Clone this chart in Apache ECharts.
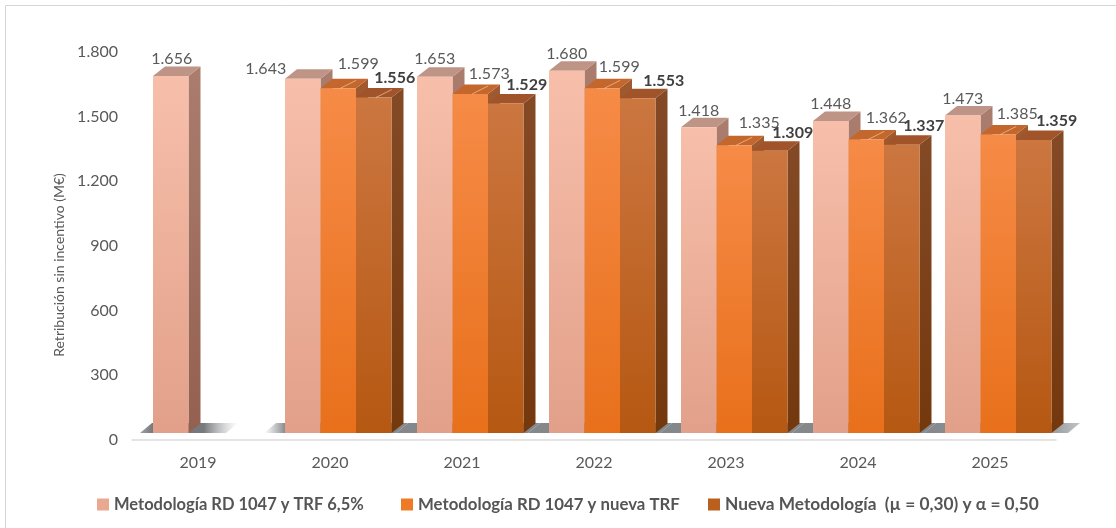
<!DOCTYPE html>
<html><head><meta charset="utf-8">
<style>html,body{margin:0;padding:0;background:#fff}#c{width:1116px;height:528px}</style>
<script src="https://cdn.jsdelivr.net/npm/echarts@6/dist/echarts.min.js"></script>
</head><body><div id="c"></div>
<script>
const categories = ['2019','2020','2021','2022','2023','2024','2025'];
const seriesNames = ['Metodología RD 1047 y TRF 6,5%','Metodología RD 1047 y nueva TRF','Nueva Metodología  (µ = 0,30) y α = 0,50'];
const rd1047Trf65 = [1656,1643,1653,1680,1418,1448,1473];
const rd1047NuevaTrf = [null,1599,1573,1599,1335,1362,1385];
const nuevaMetodologia = [null,1556,1529,1553,1309,1337,1359];

// label nudges (px, relative to the front-face top centre)
const labelDx = [[1,-37,0,0,0,0,0],[0,20,19,17,25,20,19],[0,21,21,26,23,22,23]];
const labelDy = [[-17,-10,-18,-17,-16,-17,-17],[0,-24,-20,-21,-22,-22,-21],[0,-20,-19,-17,-18,-19,-19]];

const fmt = v => String(v).replace(/\B(?=(\d{3})+$)/g,'.');
const grad = (a,b) => new echarts.graphic.LinearGradient(0,0,0,1,[{offset:0,color:a},{offset:1,color:b}]);
const palettes = [
  {front:['#f7bfaa','#e2a08a'],side:['#ab7d6e','#94604f'],top:'#bd9485'},
  {front:['#f68b47','#e8701b'],side:['#a05a30','#8a4a18'],top:'#c4672c'},
  {front:['#cc7640','#b55812'],side:['#844a26','#73380c'],top:'#a1542a'}
];
const legendColors = ['#e9a88f','#ee7a26','#b9601f'];
const BAR_W = 35.5, DX = 12, DY = 9.5, FRONT_UP = 7;

function barRenderer(si){
  return function(params, api){
    const v = api.value(1);
    if (v == null || isNaN(v)) return null;
    const idx = api.value(0);
    const base = api.coord([idx,0]);
    const top = api.coord([idx,v]);
    const x0 = base[0] - 45 + si*BAR_W, x1 = x0 + BAR_W;
    const yb = base[1] - FRONT_UP, yt = top[1] - FRONT_UP;
    const p = palettes[si];
    const children = [
      {type:'polygon',shape:{points:[[x1,yt],[x1+DX,yt-DY],[x1+DX,yb-DY],[x1,yb]]},style:{fill:grad(p.side[0],p.side[1])}},
      {type:'polygon',shape:{points:[[x0,yt],[x0+DX,yt-DY],[x1+DX,yt-DY],[x1,yt]]},style:{fill:p.top}},
      {type:'rect',shape:{x:x0,y:yt,width:BAR_W,height:yb-yt},style:{fill:grad(p.front[0],p.front[1])}}
    ];
    if (si===1 || (si===2 && idx===1)) {
      const cx = (x0+x1)/2;
      children.push({type:'line',shape:{x1:cx+2,y1:yt,x2:cx+18,y2:yt-8},style:{stroke:'rgba(250,205,170,0.65)',lineWidth:1}});
    }
    children.push({type:'text',z2:20,style:{
        x:(x0+x1)/2+labelDx[si][idx], y:yt+labelDy[si][idx],
        text:fmt(v), align:'center', verticalAlign:'middle',
        font:(si===2?'bold ':'')+'16px Lato', fill:si===2?'#404040':'#595959'}});
    return {type:'group',children};
  };
}
function floorRenderer(params, api){
  const idx = api.value(0);
  const base = api.coord([idx,0]);
  const yb = base[1]-7, yt = yb-10;
  if (idx === 0) {
    return {type:'polygon',shape:{points:[[base[0]-58,yb],[base[0]-46,yt],[base[0]+40,yt],[base[0]+28,yb]]},
      style:{fill:new echarts.graphic.LinearGradient(0,0,1,0,[{offset:0,color:'#a0a2a5'},{offset:.15,color:'#707275'},{offset:.65,color:'#77797c'},{offset:1,color:'rgba(170,172,175,0)'}])}};
  }
  const first = idx===1, last = idx===categories.length-1;
  const xl = base[0]-66, xr = last ? base[0]+78 : base[0]+66;
  const fill = first
    ? new echarts.graphic.LinearGradient(0,0,1,0,[{offset:0,color:'rgba(150,153,156,0)'},{offset:.15,color:'#85888b'},{offset:1,color:'#85888b'}])
    : last ? new echarts.graphic.LinearGradient(0,0,1,0,[{offset:0,color:'#85888b'},{offset:.85,color:'#9ea1a4'},{offset:1,color:'#c2c5c8'}])
    : '#85888b';
  return {type:'polygon',shape:{points:[[xl,yb],[xl+12,yt],[xr+12,yt],[xr,yb]]},style:{fill}};
}
const valuesBySeries = [rd1047Trf65, rd1047NuevaTrf, nuevaMetodologia];
const legendLeft = [92,396,703];
const legendSize = [16.5,16.8,17.3];
const chart = echarts.init(document.getElementById('c'));
chart.setOption({
  animation:false,
  backgroundColor:'#fff',
  graphic:[
    {type:'line',z:-1,shape:{x1:5.5,y1:5.5,x2:1116,y2:5.5},style:{stroke:'#d6d6d6',lineWidth:1}},
    {type:'line',z:-1,shape:{x1:5.5,y1:5.5,x2:5.5,y2:528},style:{stroke:'#d6d6d6',lineWidth:1}}
  ],
  grid:{left:132,right:60,top:52,bottom:88},
  legend:seriesNames.map((name,i)=>({
    left:legendLeft[i], top:491, itemWidth:12, itemHeight:12, icon:'rect', selectedMode:false,
    textStyle:{fontFamily:'Lato',fontWeight:'bold',fontSize:legendSize[i],color:'#555555'},
    data:[{name,itemStyle:{color:legendColors[i]}}]
  })),
  xAxis:{type:'category',data:categories,boundaryGap:true,
    axisLine:{lineStyle:{color:'#dcdcdc',width:1.5}},axisTick:{show:false},
    axisLabel:{fontFamily:'Lato',fontSize:16,color:'#595959',margin:15}},
  yAxis:{type:'value',min:0,max:1800,interval:300,
    name:'Retribución sin incentivo (M€)',nameLocation:'middle',nameGap:66,
    nameTextStyle:{fontFamily:'Lato',fontSize:14,color:'#595959',padding:[0,38,0,0]},
    axisLine:{show:false},axisTick:{show:false},splitLine:{show:false},
    axisLabel:{fontFamily:'Lato',fontSize:16,color:'#595959',margin:14,formatter:v=>fmt(v)}},
  series:[
    {type:'custom',name:'floor',silent:true,z:1,renderItem:floorRenderer,encode:{x:0,y:1},
      data:categories.map((c,i)=>[i,0])},
    ...seriesNames.map((name,si)=>({
      type:'custom',name,z:2+si,renderItem:barRenderer(si),encode:{x:0,y:1},
      itemStyle:{color:legendColors[si]},
      data:valuesBySeries[si].map((v,i)=>[i,v])
    }))
  ]
});
</script></body></html>
